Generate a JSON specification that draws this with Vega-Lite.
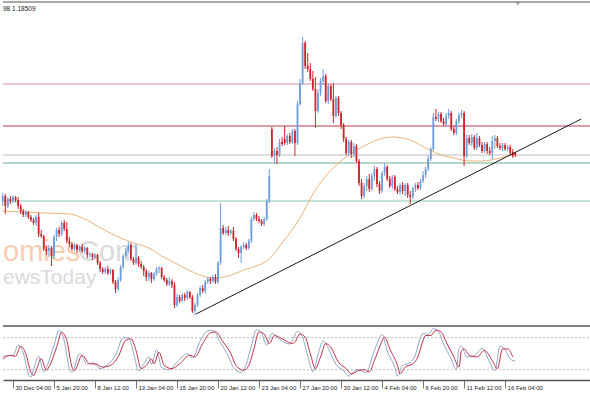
{
"$schema": "https://vega.github.io/schema/vega-lite/v6.json",
"padding": {"left": 0, "top": 1, "right": 0, "bottom": 0},
"background": "white",
"spacing": 3,
"config": {"view": {"stroke": null}, "font": "Liberation Sans"},
"datasets": {
"bars": [
{"i":-4,"o":1.1805,"h":1.1813,"l":1.1800,"c":1.1810},
{"i":-3,"o":1.1810,"h":1.1812,"l":1.1792,"c":1.1800},
{"i":-2,"o":1.1800,"h":1.1809,"l":1.1798,"c":1.1807},
{"i":-1,"o":1.1807,"h":1.1810,"l":1.1802,"c":1.1805},
{"i":0,"o":1.1805,"h":1.1811,"l":1.1803,"c":1.1809},
{"i":1,"o":1.1809,"h":1.1810,"l":1.1804,"c":1.1806},
{"i":2,"o":1.1806,"h":1.1809,"l":1.1797,"c":1.1800},
{"i":3,"o":1.1800,"h":1.1802,"l":1.1792,"c":1.1795},
{"i":4,"o":1.1795,"h":1.1797,"l":1.1789,"c":1.1791},
{"i":5,"o":1.1791,"h":1.1796,"l":1.1789,"c":1.1794},
{"i":6,"o":1.1794,"h":1.1795,"l":1.1787,"c":1.1789},
{"i":7,"o":1.1789,"h":1.1791,"l":1.1784,"c":1.1786},
{"i":8,"o":1.1786,"h":1.1788,"l":1.1781,"c":1.1783},
{"i":9,"o":1.1783,"h":1.1791,"l":1.1780,"c":1.1789},
{"i":10,"o":1.1789,"h":1.1793,"l":1.1769,"c":1.1772},
{"i":11,"o":1.1772,"h":1.1776,"l":1.1768,"c":1.1770},
{"i":12,"o":1.1770,"h":1.1771,"l":1.1755,"c":1.1757},
{"i":13,"o":1.1757,"h":1.1760,"l":1.1751,"c":1.1755},
{"i":14,"o":1.1755,"h":1.1761,"l":1.1749,"c":1.1758},
{"i":15,"o":1.1758,"h":1.1760,"l":1.1740,"c":1.1750},
{"i":16,"o":1.1750,"h":1.1771,"l":1.1747,"c":1.1769},
{"i":17,"o":1.1769,"h":1.1778,"l":1.1765,"c":1.1776},
{"i":18,"o":1.1776,"h":1.1779,"l":1.1769,"c":1.1772},
{"i":19,"o":1.1772,"h":1.1785,"l":1.1770,"c":1.1783},
{"i":20,"o":1.1783,"h":1.1786,"l":1.1775,"c":1.1777},
{"i":21,"o":1.1777,"h":1.1784,"l":1.1763,"c":1.1765},
{"i":22,"o":1.1765,"h":1.1769,"l":1.1759,"c":1.1762},
{"i":23,"o":1.1762,"h":1.1764,"l":1.1755,"c":1.1757},
{"i":24,"o":1.1757,"h":1.1763,"l":1.1755,"c":1.1761},
{"i":25,"o":1.1761,"h":1.1762,"l":1.1753,"c":1.1756},
{"i":26,"o":1.1756,"h":1.1761,"l":1.1754,"c":1.1759},
{"i":27,"o":1.1759,"h":1.1762,"l":1.1753,"c":1.1755},
{"i":28,"o":1.1755,"h":1.1760,"l":1.1752,"c":1.1758},
{"i":29,"o":1.1758,"h":1.1759,"l":1.1748,"c":1.1751},
{"i":30,"o":1.1751,"h":1.1754,"l":1.1748,"c":1.1752},
{"i":31,"o":1.1752,"h":1.1753,"l":1.1746,"c":1.1749},
{"i":32,"o":1.1749,"h":1.1753,"l":1.1747,"c":1.1751},
{"i":33,"o":1.1751,"h":1.1752,"l":1.1741,"c":1.1743},
{"i":34,"o":1.1743,"h":1.1745,"l":1.1734,"c":1.1737},
{"i":35,"o":1.1737,"h":1.1739,"l":1.1732,"c":1.1734},
{"i":36,"o":1.1734,"h":1.1739,"l":1.1732,"c":1.1737},
{"i":37,"o":1.1737,"h":1.1740,"l":1.1731,"c":1.1733},
{"i":38,"o":1.1733,"h":1.1738,"l":1.1731,"c":1.1736},
{"i":39,"o":1.1736,"h":1.1737,"l":1.1722,"c":1.1724},
{"i":40,"o":1.1724,"h":1.1726,"l":1.1713,"c":1.1717},
{"i":41,"o":1.1717,"h":1.1729,"l":1.1715,"c":1.1726},
{"i":42,"o":1.1726,"h":1.1741,"l":1.1724,"c":1.1739},
{"i":43,"o":1.1739,"h":1.1752,"l":1.1737,"c":1.1750},
{"i":44,"o":1.1750,"h":1.1758,"l":1.1748,"c":1.1755},
{"i":45,"o":1.1755,"h":1.1764,"l":1.1753,"c":1.1761},
{"i":46,"o":1.1761,"h":1.1763,"l":1.1745,"c":1.1747},
{"i":47,"o":1.1747,"h":1.1749,"l":1.1741,"c":1.1743},
{"i":48,"o":1.1743,"h":1.1762,"l":1.1741,"c":1.1748},
{"i":49,"o":1.1748,"h":1.1750,"l":1.1739,"c":1.1742},
{"i":50,"o":1.1742,"h":1.1745,"l":1.1737,"c":1.1739},
{"i":51,"o":1.1739,"h":1.1741,"l":1.1730,"c":1.1735},
{"i":52,"o":1.1735,"h":1.1737,"l":1.1725,"c":1.1729},
{"i":53,"o":1.1729,"h":1.1735,"l":1.1725,"c":1.1733},
{"i":54,"o":1.1733,"h":1.1734,"l":1.1723,"c":1.1727},
{"i":55,"o":1.1727,"h":1.1734,"l":1.1725,"c":1.1732},
{"i":56,"o":1.1732,"h":1.1739,"l":1.1730,"c":1.1737},
{"i":57,"o":1.1737,"h":1.1740,"l":1.1733,"c":1.1738},
{"i":58,"o":1.1738,"h":1.1739,"l":1.1727,"c":1.1729},
{"i":59,"o":1.1729,"h":1.1731,"l":1.1724,"c":1.1726},
{"i":60,"o":1.1726,"h":1.1728,"l":1.1720,"c":1.1722},
{"i":61,"o":1.1722,"h":1.1729,"l":1.1720,"c":1.1725},
{"i":62,"o":1.1725,"h":1.1727,"l":1.1718,"c":1.1721},
{"i":63,"o":1.1721,"h":1.1724,"l":1.1698,"c":1.1701},
{"i":64,"o":1.1701,"h":1.1712,"l":1.1699,"c":1.1709},
{"i":65,"o":1.1709,"h":1.1711,"l":1.1703,"c":1.1705},
{"i":66,"o":1.1705,"h":1.1713,"l":1.1704,"c":1.1711},
{"i":67,"o":1.1711,"h":1.1713,"l":1.1705,"c":1.1708},
{"i":68,"o":1.1708,"h":1.1716,"l":1.1706,"c":1.1714},
{"i":69,"o":1.1714,"h":1.1715,"l":1.1707,"c":1.1709},
{"i":70,"o":1.1709,"h":1.1711,"l":1.1693,"c":1.1695},
{"i":71,"o":1.1695,"h":1.1703,"l":1.1691,"c":1.1701},
{"i":72,"o":1.1701,"h":1.1713,"l":1.1699,"c":1.1711},
{"i":73,"o":1.1711,"h":1.1720,"l":1.1709,"c":1.1718},
{"i":74,"o":1.1718,"h":1.1721,"l":1.1713,"c":1.1715},
{"i":75,"o":1.1715,"h":1.1726,"l":1.1712,"c":1.1724},
{"i":76,"o":1.1724,"h":1.1729,"l":1.1722,"c":1.1727},
{"i":77,"o":1.1727,"h":1.1729,"l":1.1722,"c":1.1725},
{"i":78,"o":1.1725,"h":1.1731,"l":1.1723,"c":1.1729},
{"i":79,"o":1.1729,"h":1.1732,"l":1.1722,"c":1.1724},
{"i":80,"o":1.1724,"h":1.1745,"l":1.1722,"c":1.1743},
{"i":81,"o":1.1743,"h":1.1803,"l":1.1741,"c":1.1778},
{"i":82,"o":1.1778,"h":1.1781,"l":1.1771,"c":1.1773},
{"i":83,"o":1.1773,"h":1.1779,"l":1.1771,"c":1.1776},
{"i":84,"o":1.1776,"h":1.1780,"l":1.1770,"c":1.1773},
{"i":85,"o":1.1773,"h":1.1777,"l":1.1771,"c":1.1775},
{"i":86,"o":1.1775,"h":1.1779,"l":1.1765,"c":1.1767},
{"i":87,"o":1.1767,"h":1.1769,"l":1.1755,"c":1.1757},
{"i":88,"o":1.1757,"h":1.1759,"l":1.1748,"c":1.1753},
{"i":89,"o":1.1753,"h":1.1761,"l":1.1743,"c":1.1759},
{"i":90,"o":1.1759,"h":1.1764,"l":1.1757,"c":1.1761},
{"i":91,"o":1.1761,"h":1.1763,"l":1.1756,"c":1.1758},
{"i":92,"o":1.1758,"h":1.1767,"l":1.1756,"c":1.1765},
{"i":93,"o":1.1765,"h":1.1789,"l":1.1763,"c":1.1787},
{"i":94,"o":1.1787,"h":1.1794,"l":1.1785,"c":1.1791},
{"i":95,"o":1.1791,"h":1.1793,"l":1.1785,"c":1.1787},
{"i":96,"o":1.1787,"h":1.1790,"l":1.1783,"c":1.1785},
{"i":97,"o":1.1785,"h":1.1787,"l":1.1780,"c":1.1782},
{"i":98,"o":1.1782,"h":1.1789,"l":1.1780,"c":1.1787},
{"i":99,"o":1.1787,"h":1.1807,"l":1.1785,"c":1.1805},
{"i":100,"o":1.1805,"h":1.1837,"l":1.1803,"c":1.1830},
{"i":101,"o":1.1877,"h":1.1879,"l":1.1848,"c":1.1850},
{"i":102,"o":1.1850,"h":1.1858,"l":1.1843,"c":1.1855},
{"i":103,"o":1.1855,"h":1.1859,"l":1.1842,"c":1.1851},
{"i":104,"o":1.1851,"h":1.1867,"l":1.1849,"c":1.1864},
{"i":105,"o":1.1864,"h":1.1869,"l":1.1860,"c":1.1862},
{"i":106,"o":1.1867,"h":1.1880,"l":1.1861,"c":1.1863},
{"i":107,"o":1.1863,"h":1.1872,"l":1.1861,"c":1.1870},
{"i":108,"o":1.1870,"h":1.1873,"l":1.1862,"c":1.1864},
{"i":109,"o":1.1864,"h":1.1877,"l":1.1862,"c":1.1875},
{"i":110,"o":1.1875,"h":1.1877,"l":1.1850,"c":1.1863},
{"i":111,"o":1.1863,"h":1.1905,"l":1.1861,"c":1.1902},
{"i":112,"o":1.1902,"h":1.1927,"l":1.1900,"c":1.1923},
{"i":113,"o":1.1923,"h":1.1969,"l":1.1921,"c":1.1963},
{"i":114,"o":1.1963,"h":1.1965,"l":1.1937,"c":1.1940},
{"i":115,"o":1.1940,"h":1.1953,"l":1.1934,"c":1.1937},
{"i":116,"o":1.1937,"h":1.1943,"l":1.1925,"c":1.1927},
{"i":117,"o":1.1927,"h":1.1935,"l":1.1915,"c":1.1917},
{"i":118,"o":1.1917,"h":1.1929,"l":1.1878,"c":1.1895},
{"i":119,"o":1.1895,"h":1.1917,"l":1.1893,"c":1.1913},
{"i":120,"o":1.1913,"h":1.1928,"l":1.1910,"c":1.1925},
{"i":121,"o":1.1925,"h":1.1937,"l":1.1921,"c":1.1930},
{"i":122,"o":1.1930,"h":1.1932,"l":1.1903,"c":1.1905},
{"i":123,"o":1.1905,"h":1.1923,"l":1.1902,"c":1.1920},
{"i":124,"o":1.1920,"h":1.1922,"l":1.1905,"c":1.1907},
{"i":125,"o":1.1907,"h":1.1923,"l":1.1883,"c":1.1890},
{"i":126,"o":1.1890,"h":1.1910,"l":1.1888,"c":1.1908},
{"i":127,"o":1.1908,"h":1.1910,"l":1.1890,"c":1.1893},
{"i":128,"o":1.1893,"h":1.1895,"l":1.1877,"c":1.1881},
{"i":129,"o":1.1881,"h":1.1883,"l":1.1864,"c":1.1867},
{"i":130,"o":1.1867,"h":1.1869,"l":1.1851,"c":1.1853},
{"i":131,"o":1.1853,"h":1.1866,"l":1.1850,"c":1.1864},
{"i":132,"o":1.1864,"h":1.1866,"l":1.1848,"c":1.1852},
{"i":133,"o":1.1852,"h":1.1863,"l":1.1849,"c":1.1860},
{"i":134,"o":1.1860,"h":1.1862,"l":1.1843,"c":1.1845},
{"i":135,"o":1.1845,"h":1.1847,"l":1.1820,"c":1.1823},
{"i":136,"o":1.1823,"h":1.1827,"l":1.1807,"c":1.1810},
{"i":137,"o":1.1810,"h":1.1823,"l":1.1808,"c":1.1820},
{"i":138,"o":1.1820,"h":1.1830,"l":1.1815,"c":1.1827},
{"i":139,"o":1.1827,"h":1.1832,"l":1.1814,"c":1.1817},
{"i":140,"o":1.1817,"h":1.1833,"l":1.1815,"c":1.1830},
{"i":141,"o":1.1830,"h":1.1840,"l":1.1825,"c":1.1837},
{"i":142,"o":1.1837,"h":1.1839,"l":1.1819,"c":1.1822},
{"i":143,"o":1.1822,"h":1.1825,"l":1.1812,"c":1.1815},
{"i":144,"o":1.1815,"h":1.1835,"l":1.1813,"c":1.1833},
{"i":145,"o":1.1833,"h":1.1843,"l":1.1830,"c":1.1839},
{"i":146,"o":1.1839,"h":1.1841,"l":1.1825,"c":1.1827},
{"i":147,"o":1.1827,"h":1.1830,"l":1.1818,"c":1.1820},
{"i":148,"o":1.1820,"h":1.1831,"l":1.1817,"c":1.1829},
{"i":149,"o":1.1829,"h":1.1831,"l":1.1815,"c":1.1817},
{"i":150,"o":1.1817,"h":1.1820,"l":1.1812,"c":1.1814},
{"i":151,"o":1.1814,"h":1.1823,"l":1.1811,"c":1.1821},
{"i":152,"o":1.1821,"h":1.1824,"l":1.1812,"c":1.1815},
{"i":153,"o":1.1815,"h":1.1823,"l":1.1810,"c":1.1821},
{"i":154,"o":1.1821,"h":1.1823,"l":1.1808,"c":1.1811},
{"i":155,"o":1.1811,"h":1.1815,"l":1.1802,"c":1.1809},
{"i":156,"o":1.1809,"h":1.1819,"l":1.1807,"c":1.1817},
{"i":157,"o":1.1817,"h":1.1823,"l":1.1814,"c":1.1821},
{"i":158,"o":1.1821,"h":1.1824,"l":1.1816,"c":1.1818},
{"i":159,"o":1.1818,"h":1.1827,"l":1.1816,"c":1.1825},
{"i":160,"o":1.1825,"h":1.1835,"l":1.1823,"c":1.1831},
{"i":161,"o":1.1831,"h":1.1839,"l":1.1828,"c":1.1837},
{"i":162,"o":1.1837,"h":1.1850,"l":1.1835,"c":1.1847},
{"i":163,"o":1.1847,"h":1.1859,"l":1.1845,"c":1.1857},
{"i":164,"o":1.1857,"h":1.1893,"l":1.1855,"c":1.1889},
{"i":165,"o":1.1889,"h":1.1897,"l":1.1885,"c":1.1887},
{"i":166,"o":1.1887,"h":1.1894,"l":1.1884,"c":1.1892},
{"i":167,"o":1.1892,"h":1.1894,"l":1.1883,"c":1.1885},
{"i":168,"o":1.1885,"h":1.1888,"l":1.1880,"c":1.1882},
{"i":169,"o":1.1882,"h":1.1893,"l":1.1880,"c":1.1890},
{"i":170,"o":1.1890,"h":1.1897,"l":1.1887,"c":1.1893},
{"i":171,"o":1.1893,"h":1.1895,"l":1.1875,"c":1.1877},
{"i":172,"o":1.1877,"h":1.1880,"l":1.1871,"c":1.1873},
{"i":173,"o":1.1873,"h":1.1887,"l":1.1871,"c":1.1885},
{"i":174,"o":1.1885,"h":1.1893,"l":1.1882,"c":1.1891},
{"i":175,"o":1.1891,"h":1.1896,"l":1.1888,"c":1.1893},
{"i":176,"o":1.1893,"h":1.1895,"l":1.1840,"c":1.1850},
{"i":177,"o":1.1850,"h":1.1871,"l":1.1848,"c":1.1868},
{"i":178,"o":1.1868,"h":1.1871,"l":1.1861,"c":1.1863},
{"i":179,"o":1.1863,"h":1.1872,"l":1.1860,"c":1.1869},
{"i":180,"o":1.1869,"h":1.1871,"l":1.1856,"c":1.1858},
{"i":181,"o":1.1858,"h":1.1873,"l":1.1856,"c":1.1868},
{"i":182,"o":1.1868,"h":1.1870,"l":1.1859,"c":1.1861},
{"i":183,"o":1.1861,"h":1.1864,"l":1.1853,"c":1.1855},
{"i":184,"o":1.1855,"h":1.1864,"l":1.1853,"c":1.1862},
{"i":185,"o":1.1862,"h":1.1864,"l":1.1852,"c":1.1855},
{"i":186,"o":1.1855,"h":1.1859,"l":1.1851,"c":1.1853},
{"i":187,"o":1.1853,"h":1.1870,"l":1.1847,"c":1.1865},
{"i":188,"o":1.1865,"h":1.1871,"l":1.1857,"c":1.1868},
{"i":189,"o":1.1868,"h":1.1870,"l":1.1858,"c":1.1860},
{"i":190,"o":1.1860,"h":1.1863,"l":1.1856,"c":1.1858},
{"i":191,"o":1.1858,"h":1.1863,"l":1.1855,"c":1.1861},
{"i":192,"o":1.1861,"h":1.1863,"l":1.1855,"c":1.1857},
{"i":193,"o":1.1857,"h":1.1861,"l":1.1855,"c":1.1859},
{"i":194,"o":1.1859,"h":1.1861,"l":1.1851,"c":1.1853},
{"i":195,"o":1.1854,"h":1.1857,"l":1.1848,"c":1.1850},
{"i":196,"o":1.1853,"h":1.1854,"l":1.1849,"c":1.1851}
],
"ma": [
{"i":-4,"p":1.1795},{"i":4,"p":1.1794},{"i":12,"p":1.1793},{"i":22,"p":1.1792},{"i":28,"p":1.1787},{"i":35,"p":1.1777},{"i":42,"p":1.1768},{"i":47,"p":1.1763},{"i":53,"p":1.1758},{"i":58,"p":1.1750},{"i":64,"p":1.1742},{"i":71,"p":1.1733},{"i":78,"p":1.1728},{"i":84,"p":1.1730},{"i":90,"p":1.1736},{"i":96,"p":1.1741},{"i":100,"p":1.1747},{"i":105,"p":1.1763},{"i":112,"p":1.1788},{"i":117,"p":1.1812},{"i":122,"p":1.1830},{"i":128,"p":1.1845},{"i":132,"p":1.1853},{"i":137,"p":1.1860},{"i":142,"p":1.1866},{"i":148,"p":1.1869},{"i":155,"p":1.1866},{"i":161,"p":1.1858},{"i":165,"p":1.1853},{"i":172,"p":1.1848},{"i":178,"p":1.1845},{"i":183,"p":1.1845},{"i":190,"p":1.1848},{"i":196,"p":1.1852}
],
"levels": [
{"k":"r1","p":1.1922},{"k":"r2","p":1.1880},{"k":"bid","p":1.1851},{"k":"g1","p":1.1843},{"k":"g2","p":1.1805}
],
"trend": [{"i":71.4,"p":1.1692},{"i":221.7,"p":1.1887}],
"stk": [
{"i":-4,"v":44},{"i":-2,"v":47},{"i":0,"v":46},{"i":2,"v":66},{"i":4,"v":52},{"i":6,"v":12},{"i":7,"v":6},{"i":8,"v":20},{"i":10,"v":45},{"i":12,"v":16},{"i":13,"v":24},{"i":16,"v":66},{"i":18,"v":94},{"i":20,"v":74},{"i":22,"v":22},{"i":23,"v":15},{"i":26,"v":50},{"i":29,"v":30},{"i":31,"v":33},{"i":34,"v":22},{"i":37,"v":30},{"i":40,"v":47},{"i":43,"v":80},{"i":45,"v":80},{"i":47,"v":52},{"i":49,"v":18},{"i":51,"v":30},{"i":53,"v":44},{"i":54,"v":30},{"i":56,"v":57},{"i":58,"v":24},{"i":61,"v":20},{"i":64,"v":34},{"i":68,"v":50},{"i":70,"v":42},{"i":73,"v":74},{"i":76,"v":93},{"i":78,"v":94},{"i":81,"v":70},{"i":84,"v":46},{"i":86,"v":24},{"i":89,"v":15},{"i":91,"v":30},{"i":93,"v":64},{"i":95,"v":95},{"i":97,"v":88},{"i":99,"v":66},{"i":101,"v":88},{"i":104,"v":77},{"i":108,"v":68},{"i":109,"v":74},{"i":111,"v":92},{"i":113,"v":80},{"i":115,"v":46},{"i":117,"v":16},{"i":119,"v":48},{"i":121,"v":74},{"i":123,"v":60},{"i":126,"v":30},{"i":129,"v":18},{"i":131,"v":8},{"i":134,"v":20},{"i":136,"v":18},{"i":138,"v":14},{"i":140,"v":42},{"i":142,"v":68},{"i":144,"v":86},{"i":146,"v":55},{"i":149,"v":24},{"i":150,"v":8},{"i":152,"v":28},{"i":155,"v":33},{"i":157,"v":48},{"i":159,"v":80},{"i":160,"v":88},{"i":162,"v":86},{"i":164,"v":97},{"i":166,"v":92},{"i":168,"v":68},{"i":171,"v":40},{"i":173,"v":20},{"i":174,"v":60},{"i":175,"v":64},{"i":177,"v":44},{"i":180,"v":46},{"i":183,"v":60},{"i":186,"v":34},{"i":188,"v":18},{"i":190,"v":64},{"i":192,"v":58},{"i":194,"v":40},{"i":196,"v":36}
],
"std": [
{"i":-4,"v":40},{"i":-1,"v":47},{"i":1,"v":45},{"i":3,"v":64},{"i":5,"v":50},{"i":7,"v":15},{"i":8,"v":9},{"i":9,"v":18},{"i":11,"v":41},{"i":13,"v":19},{"i":14,"v":25},{"i":17,"v":62},{"i":19,"v":90},{"i":21,"v":75},{"i":23,"v":25},{"i":24,"v":19},{"i":27,"v":47},{"i":30,"v":31},{"i":32,"v":31},{"i":35,"v":25},{"i":38,"v":28},{"i":41,"v":44},{"i":44,"v":75},{"i":46,"v":78},{"i":48,"v":56},{"i":50,"v":22},{"i":52,"v":28},{"i":54,"v":40},{"i":55,"v":31},{"i":57,"v":53},{"i":59,"v":28},{"i":62,"v":22},{"i":65,"v":31},{"i":69,"v":47},{"i":71,"v":44},{"i":74,"v":69},{"i":77,"v":89},{"i":79,"v":91},{"i":82,"v":72},{"i":85,"v":50},{"i":87,"v":28},{"i":90,"v":19},{"i":92,"v":28},{"i":94,"v":59},{"i":96,"v":91},{"i":98,"v":87},{"i":100,"v":69},{"i":102,"v":84},{"i":105,"v":78},{"i":109,"v":69},{"i":110,"v":72},{"i":112,"v":87},{"i":114,"v":81},{"i":116,"v":50},{"i":118,"v":22},{"i":120,"v":44},{"i":122,"v":69},{"i":124,"v":62},{"i":127,"v":34},{"i":130,"v":22},{"i":132,"v":12},{"i":135,"v":19},{"i":137,"v":20},{"i":139,"v":16},{"i":141,"v":37},{"i":143,"v":62},{"i":145,"v":81},{"i":147,"v":59},{"i":150,"v":28},{"i":151,"v":12},{"i":153,"v":25},{"i":156,"v":31},{"i":158,"v":44},{"i":160,"v":75},{"i":161,"v":84},{"i":163,"v":84},{"i":165,"v":94},{"i":167,"v":91},{"i":169,"v":72},{"i":172,"v":44},{"i":174,"v":25},{"i":175,"v":56},{"i":176,"v":59},{"i":178,"v":47},{"i":181,"v":44},{"i":184,"v":56},{"i":187,"v":37},{"i":189,"v":22},{"i":191,"v":59},{"i":193,"v":59},{"i":195,"v":44}
]
},
"resolve": {"scale": {"x": "independent", "y": "independent"}},
"vconcat": [
{
"width": 590, "height": 320,
"layer": [
{"data": {"values": [{"i": -3.9, "p": 1.1745, "t": "omies"}]},
 "mark": {"type": "text", "align": "left", "baseline": "alphabetic", "font": "Liberation Sans", "fontSize": 29, "color": "#f7cdb0"},
 "encoding": {"x": {"field": "i", "type": "quantitative", "scale": {"domain": [-3.9, 226.3], "nice": false, "zero": false}, "axis": null},
  "y": {"field": "p", "type": "quantitative", "scale": {"domain": [1.1684, 1.2004], "nice": false, "zero": false}, "axis": null},
  "text": {"field": "t"}}},
{"data": {"values": [{"i": 25.4, "p": 1.1745, "t": "Com"}]},
 "mark": {"type": "text", "align": "left", "baseline": "alphabetic", "font": "Liberation Sans", "fontSize": 29, "color": "#dadada"},
 "encoding": {"x": {"field": "i", "type": "quantitative", "scale": {"domain": [-3.9, 226.3], "nice": false, "zero": false}, "axis": null},
  "y": {"field": "p", "type": "quantitative", "scale": {"domain": [1.1684, 1.2004], "nice": false, "zero": false}, "axis": null},
  "text": {"field": "t"}}},
{"data": {"values": [{"i": -3.9, "p": 1.1722, "t": "ewsToday"}]},
 "mark": {"type": "text", "align": "left", "baseline": "alphabetic", "font": "Liberation Sans", "fontSize": 21, "color": "#dadada"},
 "encoding": {"x": {"field": "i", "type": "quantitative", "scale": {"domain": [-3.9, 226.3], "nice": false, "zero": false}, "axis": null},
  "y": {"field": "p", "type": "quantitative", "scale": {"domain": [1.1684, 1.2004], "nice": false, "zero": false}, "axis": null},
  "text": {"field": "t"}}},
{"data": {"values": [{"p": 1.2004}]},
 "mark": {"type": "rule", "color": "#8a8a8a", "strokeWidth": 1.5},
 "encoding": {"y": {"field": "p", "type": "quantitative", "scale": {"domain": [1.1684, 1.2004], "nice": false, "zero": false}, "axis": null}}},
{"data": {"name": "levels"},
 "mark": {"type": "rule", "strokeWidth": 1},
 "encoding": {"y": {"field": "p", "type": "quantitative", "scale": {"domain": [1.1684, 1.2004], "nice": false, "zero": false}, "axis": null},
  "color": {"field": "k", "type": "nominal", "legend": null, "scale": {"domain": ["r1", "r2", "bid", "g1", "g2"], "range": ["#d98e9c", "#b43c50", "#bdbdbd", "#6fae8e", "#8fc6ad"]}}}},
{"data": {"name": "ma"},
 "mark": {"type": "line", "color": "#e9b27a", "strokeWidth": 1, "interpolate": "monotone"},
 "encoding": {"x": {"field": "i", "type": "quantitative", "scale": {"domain": [-3.9, 226.3], "nice": false, "zero": false}, "axis": null},
  "y": {"field": "p", "type": "quantitative", "scale": {"domain": [1.1684, 1.2004], "nice": false, "zero": false}, "axis": null}}},
{"data": {"name": "bars"},
 "mark": {"type": "rule", "strokeWidth": 1},
 "encoding": {"x": {"field": "i", "type": "quantitative", "scale": {"domain": [-3.9, 226.3], "nice": false, "zero": false}, "axis": null},
  "y": {"field": "l", "type": "quantitative", "scale": {"domain": [1.1684, 1.2004], "nice": false, "zero": false}, "axis": null},
  "y2": {"field": "h"},
  "color": {"condition": {"test": "datum.c >= datum.o", "value": "#6e9ddc"}, "value": "#d1232b"}}},
{"data": {"name": "bars"},
 "mark": {"type": "rule", "strokeWidth": 1.8, "strokeCap": "butt"},
 "encoding": {"x": {"field": "i", "type": "quantitative", "scale": {"domain": [-3.9, 226.3], "nice": false, "zero": false}, "axis": null},
  "y": {"field": "o", "type": "quantitative", "scale": {"domain": [1.1684, 1.2004], "nice": false, "zero": false}, "axis": null},
  "y2": {"field": "c"},
  "color": {"condition": {"test": "datum.c >= datum.o", "value": "#6e9ddc"}, "value": "#d1232b"}}},
{"data": {"name": "trend"},
 "mark": {"type": "line", "color": "#1a1a1a", "strokeWidth": 1},
 "encoding": {"x": {"field": "i", "type": "quantitative", "scale": {"domain": [-3.9, 226.3], "nice": false, "zero": false}, "axis": null},
  "y": {"field": "p", "type": "quantitative", "scale": {"domain": [1.1684, 1.2004], "nice": false, "zero": false}, "axis": null}}},
{"data": {"values": [{"i": -3.9, "p": 1.1997, "t": "98 1.18509"}]},
 "mark": {"type": "text", "align": "left", "baseline": "middle", "font": "Liberation Sans", "fontSize": 6.5, "color": "#222222"},
 "encoding": {"x": {"field": "i", "type": "quantitative", "scale": {"domain": [-3.9, 226.3], "nice": false, "zero": false}, "axis": null},
  "y": {"field": "p", "type": "quantitative", "scale": {"domain": [1.1684, 1.2004], "nice": false, "zero": false}, "axis": null},
  "text": {"field": "t"}}},
{"data": {"values": [{"i": 197, "p": 1.2002}]},
 "mark": {"type": "point", "shape": "triangle-down", "filled": true, "size": 18, "color": "#7a7a7a"},
 "encoding": {"x": {"field": "i", "type": "quantitative", "scale": {"domain": [-3.9, 226.3], "nice": false, "zero": false}, "axis": null},
  "y": {"field": "p", "type": "quantitative", "scale": {"domain": [1.1684, 1.2004], "nice": false, "zero": false}, "axis": null}}}
]
},
{
"width": 590, "height": 54,
"layer": [
{"data": {"values": [{"v": 80}, {"v": 20}]},
 "mark": {"type": "rule", "color": "#b8b8b8", "strokeDash": [2, 2], "strokeWidth": 1},
 "encoding": {"y": {"field": "v", "type": "quantitative", "scale": {"domain": [0.7, 101.9], "nice": false, "zero": false}, "axis": null}}},
{"data": {"values": [{"v": 101.9}]},
 "mark": {"type": "rule", "color": "#555555", "strokeWidth": 1.5},
 "encoding": {"y": {"field": "v", "type": "quantitative", "scale": {"domain": [0.7, 101.9], "nice": false, "zero": false}, "axis": null}}},
{"data": {"name": "stk"},
 "mark": {"type": "line", "color": "#93a6c6", "strokeWidth": 1, "interpolate": "monotone"},
 "encoding": {"x": {"field": "i", "type": "quantitative", "scale": {"domain": [-3.9, 226.3], "nice": false, "zero": false},
   "axis": {"values": [0, 16, 32, 48, 64, 80, 96, 112, 128, 144, 160, 176, 192], "labelExpr": "['30 Dec 04:00','5 Jan 20:00','8 Jan 12:00','13 Jan 04:00','15 Jan 20:00','20 Jan 12:00','23 Jan 04:00','27 Jan 20:00','30 Jan 12:00','4 Feb 04:00','6 Feb 20:00','11 Feb 12:00','16 Feb 04:00'][round(datum.value/16)]", "title": null, "grid": false, "domain": true, "domainColor": "#555555", "domainWidth": 1.5, "ticks": true, "tickColor": "#777777", "tickSize": 8, "labelPadding": -4, "labelAlign": "left", "labelOffset": 2, "labelFont": "Liberation Sans", "labelFontSize": 6, "labelColor": "#222222", "labelFlush": false, "labelOverlap": false}},
  "y": {"field": "v", "type": "quantitative", "scale": {"domain": [0.7, 101.9], "nice": false, "zero": false}, "axis": null}}},
{"data": {"name": "std"},
 "mark": {"type": "line", "color": "#c0304a", "strokeWidth": 1, "interpolate": "monotone"},
 "encoding": {"x": {"field": "i", "type": "quantitative", "scale": {"domain": [-3.9, 226.3], "nice": false, "zero": false}},
  "y": {"field": "v", "type": "quantitative", "scale": {"domain": [0.7, 101.9], "nice": false, "zero": false}, "axis": null}}}
]
}
]
}
